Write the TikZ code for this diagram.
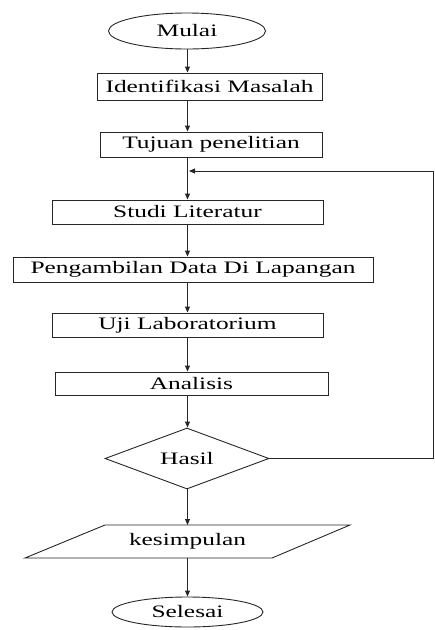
\documentclass[tikz,border=0pt]{standalone}
\usepackage{fontspec}
\setmainfont{Liberation Serif}[FakeStretch=1.45]
\usetikzlibrary{shapes.geometric,arrows.meta}
\begin{document}
\begin{tikzpicture}[x=1pt,y=-1pt,
  line/.style={draw=black!85,line width=0.9pt},
  arr/.style={line,-{Triangle[length=6pt,width=5pt]}},
  txt/.style={font=\fontsize{17.5}{17.5}\selectfont},
  procbox/.style={line,rectangle,inner sep=0pt,txt},
  term/.style={line,ellipse,inner sep=0pt,txt},
  decis/.style={line,diamond,inner sep=0pt,txt}]
\useasboundingbox (0,0) rectangle (435,630);
\node[term,minimum width=157pt,minimum height=36pt] (mulai) at (187,31) {Mulai};
\node[procbox,minimum width=225pt,minimum height=27pt] (idf) at (209.5,86.5) {Identifikasi Masalah};
\node[procbox,minimum width=222pt,minimum height=25pt] (tuj) at (211,144.5) {Tujuan penelitian};
\node[procbox,minimum width=271pt,minimum height=24pt] (studi) at (187.5,212) {Studi Literatur};
\node[procbox,minimum width=360pt,minimum height=25pt] (peng) at (193,269.5) {Pengambilan Data Di Lapangan};
\node[procbox,minimum width=271pt,minimum height=24pt] (uji) at (187.5,325) {Uji Laboratorium};
\node[procbox,minimum width=273pt,minimum height=23pt] (anal) at (191.5,383.5) {Analisis};
\node[decis,minimum width=164pt,minimum height=61pt,aspect=2.7] (hasil) at (187,458.5) {Hasil};
\coordinate (k1) at (25,558);
\coordinate (k2) at (272,558);
\coordinate (k3) at (350,525);
\coordinate (k4) at (105,525);
\draw[line] (k1) -- (k2) -- (k3) -- (k4) -- cycle;
\node[txt] (kes) at (187.5,541.5) {kesimpulan};
\node[term,minimum width=151pt,minimum height=30pt] (sel) at (187.5,612) {Selesai};
\coordinate (cx) at (187.5,0);
\draw[arr] (cx |- mulai.south) -- (cx |- idf.north);
\draw[arr] (cx |- idf.south) -- (cx |- tuj.north);
\draw[arr] (cx |- tuj.south) -- (cx |- studi.north);
\draw[arr] (cx |- studi.south) -- (cx |- peng.north);
\draw[arr] (cx |- peng.south) -- (cx |- uji.north);
\draw[arr] (cx |- uji.south) -- (cx |- anal.north);
\draw[arr] (cx |- anal.south) -- (cx |- hasil.north);
\draw[arr] (cx |- hasil.south) -- (cx |- k4);
\draw[arr] (cx |- k1) -- (cx |- sel.north);
\coordinate (fb) at (433,171);
\coordinate (jn) at (189,171);
\draw[arr] (hasil.east) -| (fb) -- (jn);
\end{tikzpicture}
\end{document}
